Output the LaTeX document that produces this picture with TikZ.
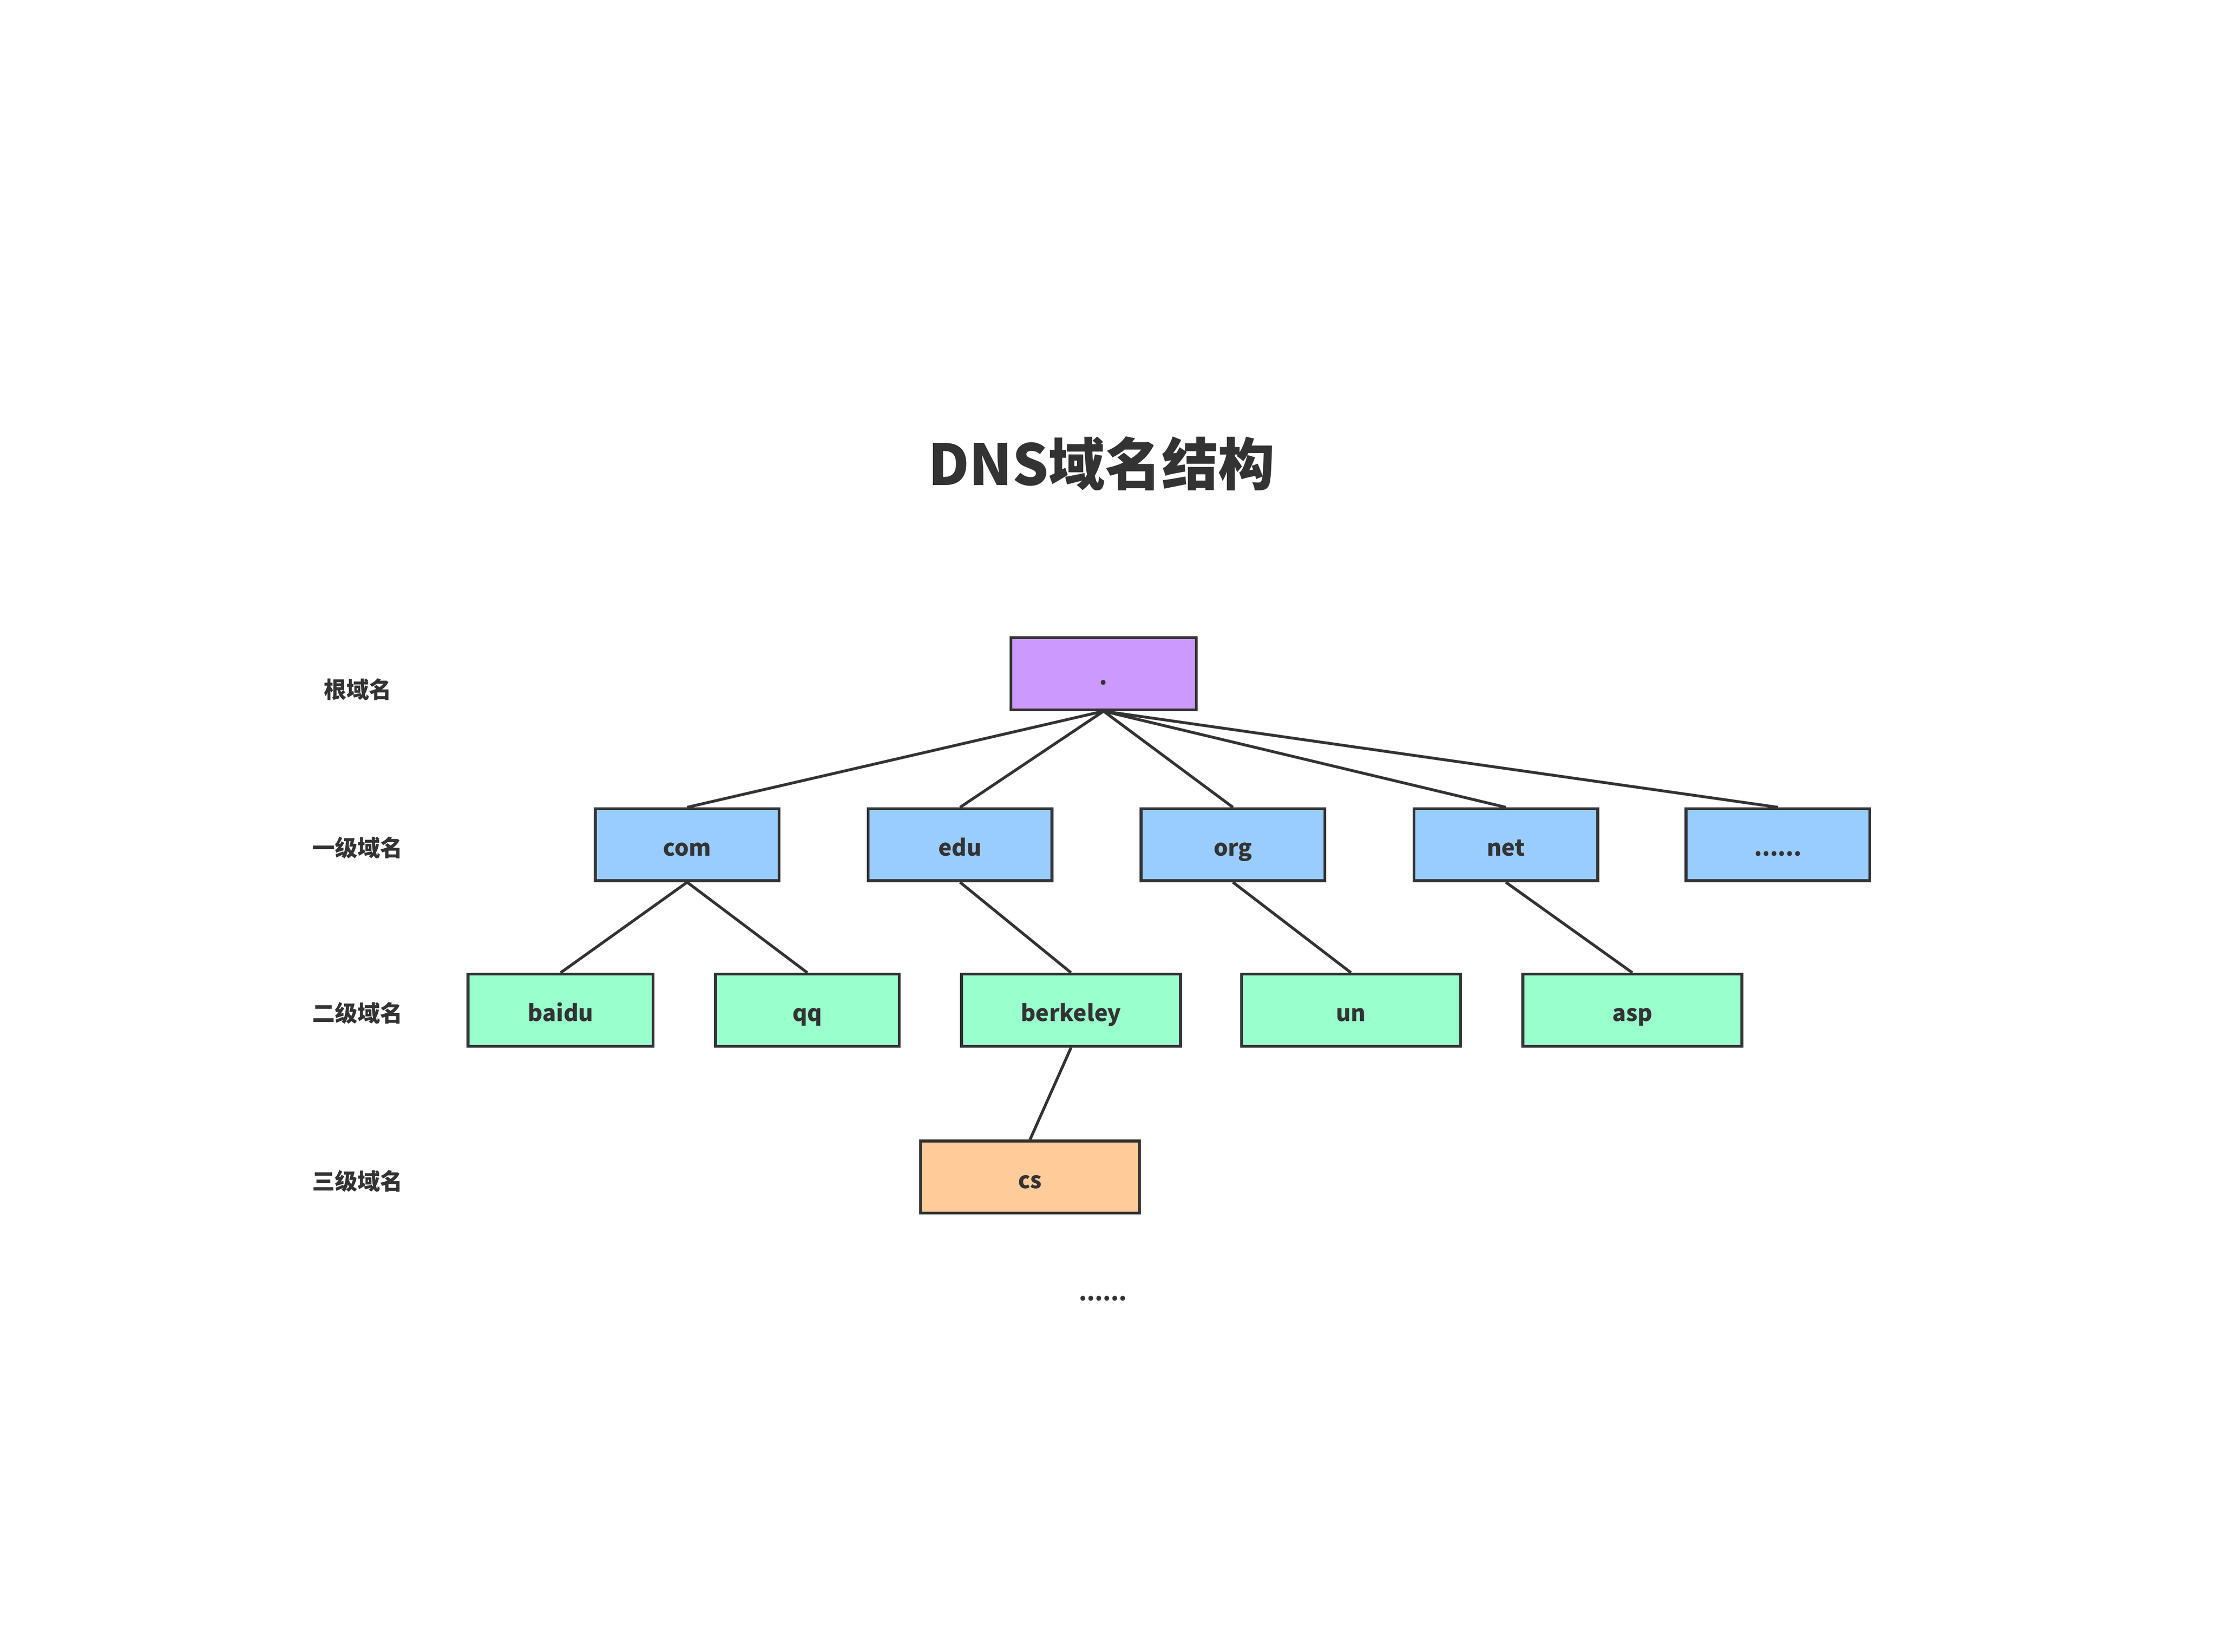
\documentclass[tikz,border=0pt]{standalone}
\usepackage{fontspec}
\setmainfont{Noto Sans CJK SC}
\definecolor{ink}{HTML}{333333}
\definecolor{rootc}{HTML}{CC99FF}
\definecolor{topc}{HTML}{99CCFF}
\definecolor{secc}{HTML}{99FFCC}
\definecolor{thirdc}{HTML}{FFCC99}
\begin{document}
\begin{tikzpicture}[x=1pt,y=-1pt,
  box/.style={draw=ink,line width=2pt,inner sep=0pt,minimum height=51pt,text height=16pt,text depth=0pt,text=ink,font=\fontsize{16}{16}\selectfont\bfseries},
  narrow/.style={box,minimum width=130pt},
  wide/.style={box,minimum width=155pt},
  lvl/.style={text=ink,font=\fontsize{16}{16}\selectfont\bfseries,inner sep=0pt},
  link/.style={draw=ink,line width=2pt}]
\useasboundingbox (0,0) rectangle (1568,1168.2);
\node[text=ink,font=\fontsize{40}{40}\selectfont\bfseries,inner sep=0pt] (title) at (779,328) {DNS域名结构};
% level labels
\node[lvl] (l0) at (253,487.5) {根域名};
\node[lvl] (l1) at (253,599.5) {一级域名};
\node[lvl] (l2) at (253,716.5) {二级域名};
\node[lvl] (l3) at (253,835.5) {三级域名};
% root
\node[narrow,fill=rootc,minimum width=131pt] (root) at (780.5,476.5) {.};
% level 1
\node[narrow,fill=topc] (com) at (486,597.5) {com};
\node[narrow,fill=topc] (edu) at (679,597.5) {edu};
\node[narrow,fill=topc] (org) at (872,597.5) {org};
\node[narrow,fill=topc] (net) at (1065,597.5) {net};
\node[narrow,fill=topc] (more) at (1257.5,597.5) {......};
% level 2
\node[narrow,fill=secc,minimum width=131pt] (baidu) at (396.5,714.5) {baidu};
\node[narrow,fill=secc] (qq) at (571,714.5) {qq};
\node[wide,fill=secc] (berkeley) at (757.5,714.5) {berkeley};
\node[wide,fill=secc] (un) at (955.5,714.5) {un};
\node[wide,fill=secc] (asp) at (1154.5,714.5) {asp};
% level 3
\node[wide,fill=thirdc] (cs) at (728.5,832.5) {cs};
\node[lvl,anchor=base] (dots) at (780,920) {......};
% connectors
\foreach \c in {com,edu,org,net,more}{\draw[link] (root.south) -- (\c.north);}
\draw[link] (com.south) -- (baidu.north);
\draw[link] (com.south) -- (qq.north);
\draw[link] (edu.south) -- (berkeley.north);
\draw[link] (org.south) -- (un.north);
\draw[link] (net.south) -- (asp.north);
\draw[link] (berkeley.south) -- (cs.north);
\end{tikzpicture}
\end{document}
